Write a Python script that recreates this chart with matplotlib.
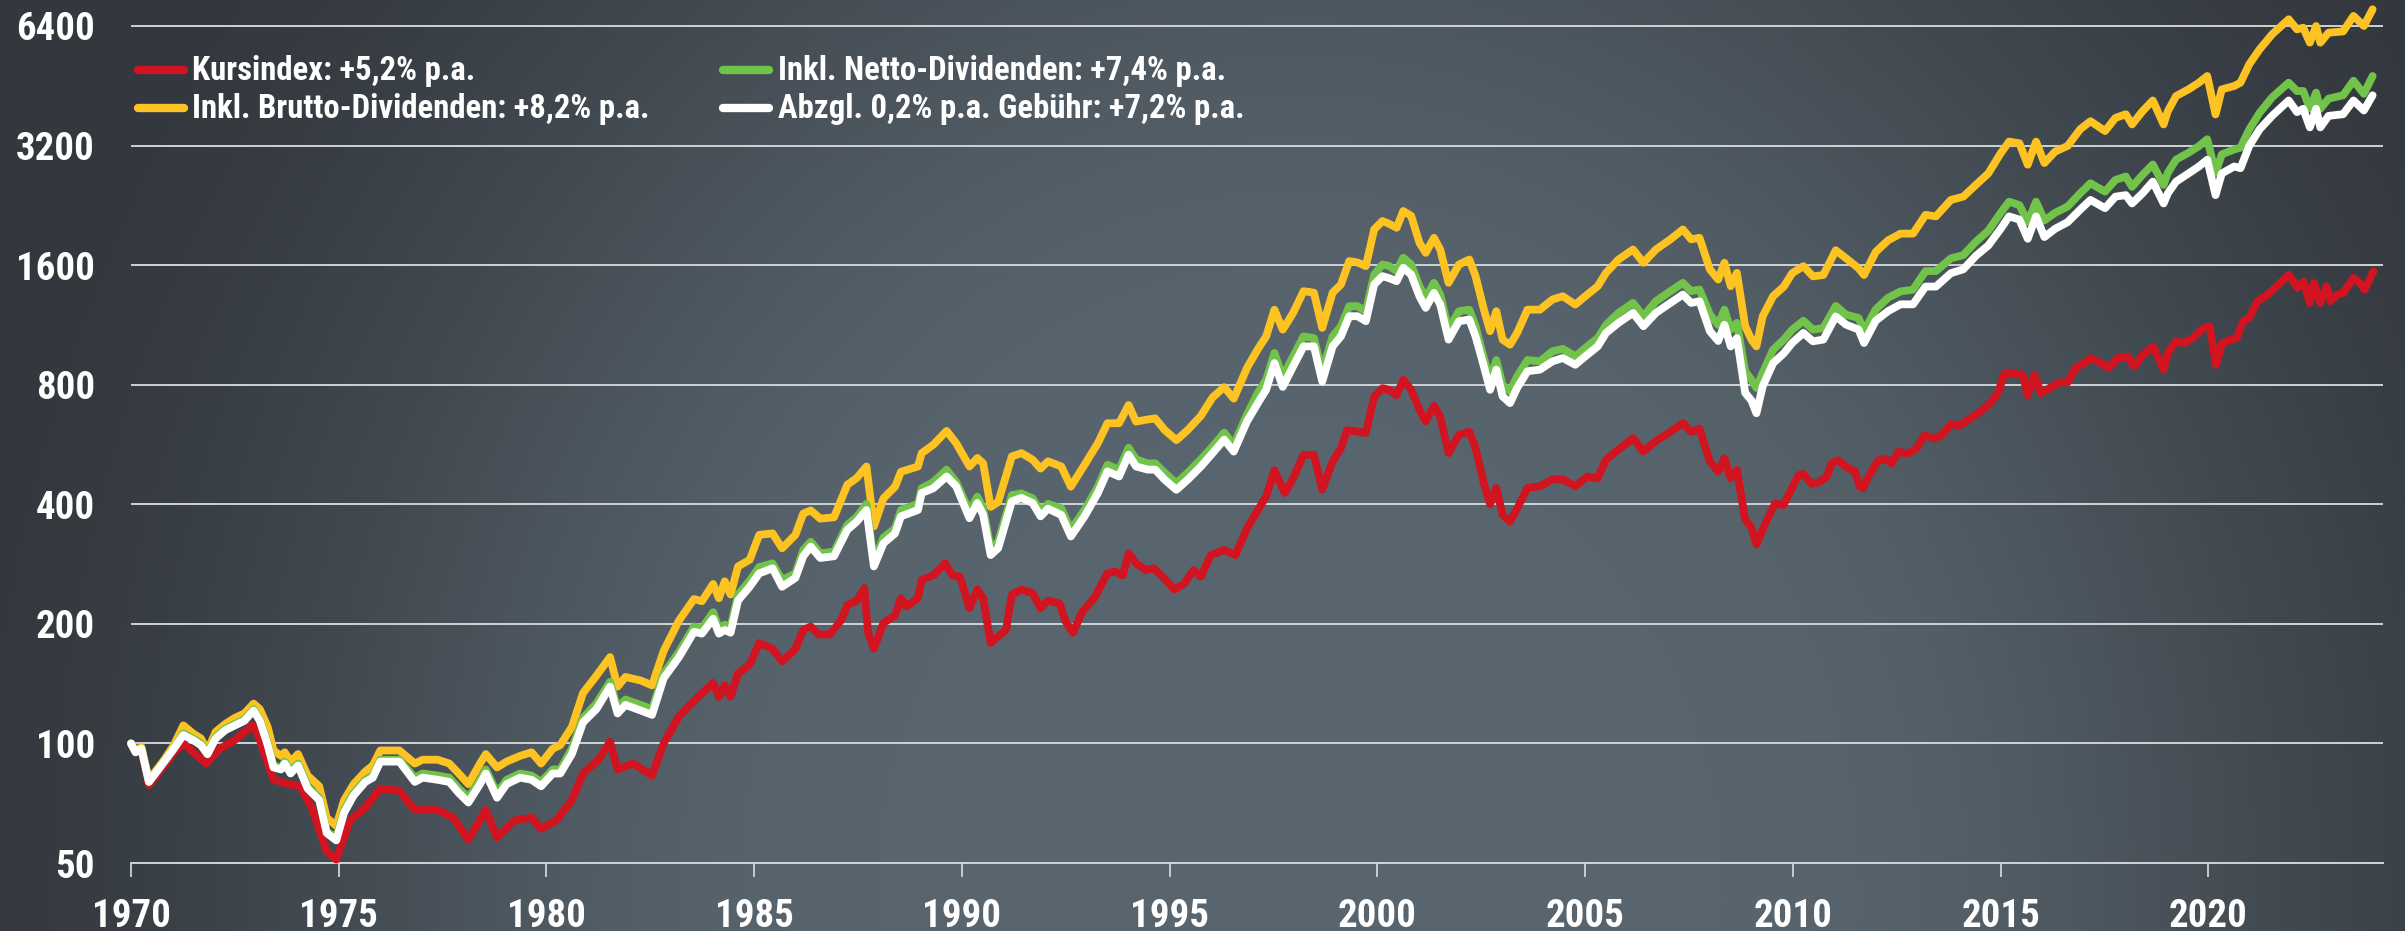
import numpy as np
import matplotlib
matplotlib.use("Agg")
import matplotlib.pyplot as plt
from matplotlib import font_manager as fm
from matplotlib.lines import Line2D
from matplotlib.ticker import FixedLocator, NullLocator

# --- data -----------------------------------------------------------------
# Kursindex (price index), own sampling
KURS_YEARS = [
    1970.00, 1970.11, 1970.25, 1970.43, 1970.75, 1971.03, 1971.26, 1971.81, 1972.14, 1972.50,
    1972.92, 1973.06, 1973.43, 1973.79, 1974.07, 1974.35, 1974.71, 1974.94, 1975.27, 1975.64,
    1976.00, 1976.46, 1976.83, 1977.38, 1977.75, 1978.12, 1978.54, 1978.81, 1979.23, 1979.64,
    1979.87, 1980.24, 1980.61, 1980.88, 1981.25, 1981.53, 1981.71, 1982.08, 1982.54, 1982.82,
    1983.19, 1983.55, 1984.01,
    1984.15, 1984.29, 1984.43, 1984.61, 1984.89, 1985.12, 1985.44, 1985.67, 1985.99, 1986.18,
    1986.36, 1986.55, 1986.82, 1987.10, 1987.24, 1987.47, 1987.65, 1987.74, 1987.88, 1988.11,
    1988.39, 1988.53, 1988.66, 1988.94, 1989.03, 1989.31, 1989.59, 1989.77, 1989.95, 1990.18,
    1990.37, 1990.51, 1990.69, 1990.87, 1991.06, 1991.20, 1991.43, 1991.70, 1991.89, 1992.07,
    1992.35, 1992.49, 1992.67, 1992.90, 1993.18, 1993.50, 1993.68, 1993.87, 1994.01, 1994.19,
    1994.42, 1994.60, 1994.83, 1995.11, 1995.34, 1995.57, 1995.75, 1995.99, 1996.31, 1996.58,
    1996.86,
    1997.12, 1997.32, 1997.52, 1997.77, 1997.97, 1998.22, 1998.47, 1998.67, 1998.92, 1999.12,
    1999.27, 1999.52, 1999.72, 1999.92, 2000.12, 2000.27, 2000.46, 2000.62, 2000.81, 2001.01,
    2001.16, 2001.36, 2001.51, 2001.71, 2001.96, 2002.21, 2002.36, 2002.56, 2002.71, 2002.86,
    2003.01, 2003.19, 2003.36, 2003.61, 2003.91, 2004.21, 2004.46, 2004.76, 2005.05, 2005.30,
    2005.50, 2005.80, 2006.15, 2006.40, 2006.70, 2007.05, 2007.35, 2007.55, 2007.75, 2008.00,
    2008.20, 2008.35, 2008.50, 2008.65, 2008.85, 2009.00, 2009.12,
    2009.37, 2009.57, 2009.77, 2009.93, 2010.13, 2010.25, 2010.45, 2010.65, 2010.81, 2010.93,
    2011.09, 2011.29, 2011.49, 2011.61, 2011.69, 2011.81, 2012.05, 2012.21, 2012.37, 2012.53,
    2012.77, 2012.97, 2013.17, 2013.41, 2013.57, 2013.81, 2014.01, 2014.21, 2014.49, 2014.73,
    2014.93, 2015.09, 2015.33, 2015.53, 2015.65, 2015.81, 2015.97, 2016.21, 2016.41, 2016.61,
    2016.81,
    2017.01, 2017.16, 2017.41, 2017.61, 2017.81, 2018.06, 2018.21, 2018.42, 2018.67, 2018.92,
    2019.02, 2019.22, 2019.42, 2019.62, 2019.88, 2020.03, 2020.18, 2020.33, 2020.53, 2020.68,
    2020.83, 2020.98, 2021.18, 2021.43, 2021.68, 2021.94, 2022.14, 2022.29, 2022.44, 2022.54,
    2022.69, 2022.84, 2022.94, 2023.09, 2023.24, 2023.49, 2023.64, 2023.76, 2023.97,
]
KURS = [
    100, 95, 96, 78.6, 86.6, 95, 100, 89, 97, 102,
    111, 105, 81, 79, 78, 69, 53.5, 51, 64, 69,
    77, 76, 68, 68, 65, 57.3, 68, 58, 64, 65,
    61, 64, 72, 84, 91, 101, 86, 89, 83, 100,
    117, 128, 142,
    131, 140, 131, 150, 158, 179, 173, 161, 173, 193,
    197, 188, 188, 205, 223, 229, 246, 190, 173, 201,
    210, 232, 221, 232, 258, 265, 284, 265, 263, 219,
    244, 232, 179, 186, 193, 237, 244, 239, 219, 229,
    225, 203, 190, 215, 232, 268, 271, 265, 301, 284,
    273, 276, 263, 244, 252, 273, 263, 298, 307, 298,
    348,
    387, 418, 487, 427, 465, 533, 533, 436, 512, 554,
    615, 609, 605, 747, 784, 777, 753, 823, 777, 692,
    647, 708, 665, 538, 598, 609, 554, 452, 400, 440,
    376, 362, 390, 440, 444, 462, 462, 444, 470, 465,
    518, 549, 587, 543, 577, 609, 640, 609, 620, 512,
    484, 522, 465, 488, 366, 350, 317,
    365, 402, 398, 430, 473, 477, 450, 456, 469, 507,
    516, 496, 484, 443, 439, 469, 516, 521, 507, 542,
    537, 553, 597, 585, 597, 637, 632, 652, 682, 717,
    761, 853, 853, 846, 753, 846, 761, 789, 811, 811,
    883,
    907, 934, 907, 882, 934, 942, 889, 952, 999, 873,
    962, 1029, 1019, 1049, 1111, 1122, 898, 1019, 1039, 1049,
    1154, 1178, 1298, 1349, 1429, 1514, 1402, 1456, 1284, 1443,
    1284, 1415, 1298, 1349, 1360, 1486, 1443, 1389, 1544,
]

# total-return variants share one sampling
TR_YEARS = [
    1970.00, 1970.11, 1970.25, 1970.43, 1970.62, 1970.80, 1971.03, 1971.26, 1971.49, 1971.68,
    1971.84, 1972.04, 1972.27, 1972.50, 1972.73, 1972.95, 1973.10, 1973.29, 1973.43, 1973.61,
    1973.70, 1973.84, 1974.02, 1974.25, 1974.53, 1974.71, 1974.94, 1975.13, 1975.36, 1975.64,
    1975.82, 1976.00, 1976.46, 1976.83, 1977.02, 1977.38, 1977.66, 1977.89, 1978.12, 1978.40,
    1978.54, 1978.81, 1979.04, 1979.36, 1979.64, 1979.87, 1980.15, 1980.33, 1980.61, 1980.88,
    1981.20, 1981.53, 1981.71, 1981.90, 1982.27, 1982.54, 1982.82, 1983.19, 1983.55, 1983.74,
    1984.01,
    1984.15, 1984.29, 1984.43, 1984.61, 1984.89, 1985.12, 1985.44, 1985.67, 1985.99, 1986.18,
    1986.36, 1986.59, 1986.92, 1987.24, 1987.47, 1987.70, 1987.88, 1988.11, 1988.39, 1988.53,
    1988.94, 1989.03, 1989.31, 1989.63, 1989.86, 1990.18, 1990.37, 1990.51, 1990.69, 1990.87,
    1991.20, 1991.43, 1991.70, 1991.89, 1992.07, 1992.39, 1992.62, 1992.95, 1993.27, 1993.50,
    1993.78, 1994.01, 1994.19, 1994.47, 1994.65, 1994.88, 1995.16, 1995.43, 1995.75, 1996.03,
    1996.31, 1996.54, 1996.86,
    1997.12, 1997.32, 1997.52, 1997.72, 1997.97, 1998.22, 1998.47, 1998.67, 1998.92, 1999.12,
    1999.32, 1999.52, 1999.72, 1999.92, 2000.12, 2000.27, 2000.46, 2000.62, 2000.81, 2001.01,
    2001.16, 2001.36, 2001.51, 2001.71, 2001.96, 2002.21, 2002.36, 2002.56, 2002.71, 2002.86,
    2003.01, 2003.19, 2003.36, 2003.61, 2003.91, 2004.21, 2004.46, 2004.76, 2005.05, 2005.30,
    2005.50, 2005.80, 2006.15, 2006.40, 2006.70, 2007.05, 2007.35, 2007.55, 2007.75, 2008.00,
    2008.20, 2008.35, 2008.50, 2008.65, 2008.85, 2009.00, 2009.12,
    2009.27, 2009.52, 2009.78, 2009.98, 2010.25, 2010.48, 2010.73, 2011.03, 2011.28, 2011.58,
    2011.71, 2011.99, 2012.29, 2012.59, 2012.89, 2013.19, 2013.44, 2013.80, 2014.10, 2014.40,
    2014.70, 2015.00, 2015.20, 2015.45, 2015.65, 2015.85, 2016.05, 2016.31, 2016.61, 2016.91,
    2017.16, 2017.51, 2017.76, 2018.01, 2018.16, 2018.41, 2018.66, 2018.92, 2019.02, 2019.22,
    2019.52, 2019.77, 2019.97, 2020.17, 2020.32, 2020.62, 2020.77, 2020.98, 2021.23, 2021.53,
    2021.93, 2022.13, 2022.28, 2022.44, 2022.59, 2022.69, 2022.89, 2023.24, 2023.49, 2023.74,
    2023.95,
]
BRUTTO = [
    100, 96, 98, 81, 86, 91, 99, 111, 106, 103,
    96, 107, 112, 116, 119, 126, 122, 110, 96, 93,
    95, 90, 94, 83, 78, 65, 62, 72, 79, 85,
    88, 96, 96, 89, 91, 91, 89, 84, 79, 89,
    94, 87, 90, 93, 95, 89, 97, 99, 110, 134,
    148, 165, 139, 147, 144, 140, 171, 204, 231, 228,
    252,
    232, 256, 237, 279, 290, 335, 338, 310, 335, 379,
    386, 368, 371, 448, 466, 498, 352, 414, 443, 483,
    498, 538, 565, 612, 570, 498, 523, 507, 394, 405,
    528, 538, 518, 492, 513, 498, 443, 503, 570, 640,
    640, 711, 646, 654, 658, 615, 580, 615, 668, 743,
    789, 738, 882,
    983, 1058, 1236, 1101, 1213, 1376, 1364, 1112, 1364, 1430,
    1638, 1625, 1591, 1968, 2066, 2035, 1987, 2190, 2130, 1822,
    1718, 1875, 1752, 1444, 1606, 1653, 1501, 1238, 1091, 1225,
    1039, 1009, 1080, 1236, 1236, 1311, 1336, 1273, 1349, 1416,
    1530, 1653, 1752, 1622, 1752, 1858, 1968, 1858, 1875, 1561,
    1472, 1622, 1416, 1530, 1123, 1039, 999,
    1189, 1336, 1413, 1527, 1591, 1499, 1511, 1744, 1664, 1571,
    1511, 1727, 1848, 1921, 1921, 2141, 2123, 2335, 2380, 2547,
    2723, 3062, 3274, 3242, 2864, 3274, 2892, 3091, 3193, 3516,
    3686, 3481, 3756, 3838, 3617, 3903, 4156, 3617, 3903, 4265,
    4433, 4608, 4790, 3832, 4433, 4520, 4608, 5124, 5591, 6097,
    6654, 6277, 6338, 5810, 6400, 5810, 6158, 6200, 6784, 6400,
    7050,
]
NETTO = [
    100, 95, 97, 80, 85, 90, 97, 106, 103, 100,
    94, 104, 109, 112, 115, 122, 115, 100, 88, 87,
    90, 85, 89, 78, 73, 60, 58, 68, 75, 81,
    83, 91, 91, 82, 84, 83, 82, 77, 73, 81,
    86, 75, 81, 84, 83, 80, 86, 86, 97, 116,
    126, 143, 123, 129, 125, 122, 150, 170, 197, 195,
    214,
    195, 199, 197, 237, 257, 278, 284, 258, 268, 307,
    322, 301, 304, 355, 372, 401, 287, 330, 348, 387,
    401, 439, 455, 489, 455, 384, 418, 391, 310, 322,
    422, 426, 414, 384, 401, 391, 345, 387, 443, 503,
    489, 555, 519, 507, 507, 480, 452, 480, 519, 559,
    606, 564, 674,
    763, 823, 962, 839, 943, 1059, 1048, 865, 1059, 1123,
    1261, 1261, 1225, 1515, 1606, 1594, 1545, 1670, 1606, 1416,
    1324, 1444, 1349, 1101, 1225, 1236, 1123, 934, 823, 923,
    800, 770, 839, 923, 916, 971, 985, 943, 999, 1048,
    1132, 1213, 1285, 1190, 1298, 1376, 1444, 1376, 1389, 1201,
    1132, 1236, 1101, 1145, 865, 823, 785,
    857, 980, 1039, 1101, 1159, 1101, 1111, 1263, 1200, 1178,
    1091, 1237, 1325, 1374, 1388, 1546, 1546, 1664, 1696, 1832,
    1953, 2168, 2311, 2266, 2053, 2311, 2073, 2168, 2247, 2425,
    2572, 2450, 2622, 2675, 2520, 2700, 2868, 2547, 2732, 2950,
    3070, 3190, 3320, 2732, 3040, 3130, 3160, 3513, 3870, 4230,
    4608, 4390, 4390, 3960, 4350, 3960, 4200, 4283, 4660, 4320,
    4790,
]
GEBUEHR = [
    100, 95, 97, 80, 85, 90, 97, 105, 102, 99,
    94, 103, 108, 111, 114, 121, 114, 99, 87, 86,
    89, 84, 88, 77, 72, 59.5, 57, 67, 74, 80,
    82, 90, 90, 80, 82, 81, 80, 75, 71, 79,
    84, 73, 79, 82, 81, 78, 84, 84, 94, 113,
    122, 139, 119, 125, 121, 118, 146, 165, 191, 189,
    206,
    189, 193, 190, 229, 248, 268, 276, 248, 261, 296,
    313, 293, 296, 345, 362, 387, 279, 319, 338, 373,
    387, 427, 439, 470, 444, 369, 403, 376, 298, 310,
    407, 415, 403, 373, 390, 376, 332, 373, 427, 484,
    470, 533, 498, 489, 489, 461, 435, 461, 498, 538,
    582, 543, 647,
    719, 777, 907, 790, 890, 999, 999, 815, 999, 1059,
    1190, 1190, 1156, 1430, 1501, 1485, 1458, 1576, 1515, 1336,
    1249, 1362, 1273, 1039, 1156, 1167, 1059, 890, 777, 873,
    748, 719, 785, 865, 873, 916, 934, 898, 952, 999,
    1080, 1145, 1213, 1123, 1213, 1285, 1349, 1285, 1298, 1091,
    1031, 1132, 999, 1048, 763, 730, 678,
    792, 906, 960, 1019, 1080, 1029, 1039, 1189, 1133, 1101,
    1019, 1159, 1226, 1275, 1275, 1413, 1413, 1527, 1562, 1688,
    1793, 1976, 2123, 2083, 1864, 2123, 1883, 1976, 2053, 2206,
    2335, 2226, 2380, 2401, 2288, 2425, 2597, 2288, 2425, 2597,
    2723, 2835, 2948, 2401, 2723, 2835, 2806, 3193, 3516, 3801,
    4156, 3885, 3960, 3555, 3960, 3555, 3801, 3838, 4156, 3922,
    4283,
]

LABELS = ["Kursindex: +5,2% p.a.", "Inkl. Brutto-Dividenden: +8,2% p.a.",
          "Inkl. Netto-Dividenden: +7,4% p.a.", "Abzgl. 0,2% p.a. Gebühr: +7,2% p.a."]
Y_TICKS = [50, 100, 200, 400, 800, 1600, 3200, 6400]
X_TICKS = [1970, 1975, 1980, 1985, 1990, 1995, 2000, 2005, 2010, 2015, 2020]

assert len(KURS_YEARS) == len(KURS)
assert len(TR_YEARS) == len(BRUTTO) == len(NETTO) == len(GEBUEHR)

RED, YELLOW, GREEN, WHITE = "#d1141f", "#fdc323", "#72c34a", "#ffffff"
GRID = "#cfd3d6"


def pick_font():
    """Prefer a narrow bold face; fall back to Liberation Sans Bold."""
    tries = [
        ("Roboto Condensed", "normal"),
        ("Liberation Sans Narrow", "normal"),
        ("Open Sans Condensed", "normal"),
        ("DejaVu Sans", "condensed"),
    ]
    for fam, stretch in tries:
        try:
            path = fm.findfont(fm.FontProperties(family=fam, weight="bold", stretch=stretch),
                               fallback_to_default=False)
        except ValueError:
            continue
        low = path.lower()
        if "condensed" in low or "narrow" in low:
            return fm.FontProperties(fname=path), True
    path = fm.findfont(fm.FontProperties(family="Liberation Sans", weight="bold"))
    return fm.FontProperties(fname=path), False


FONT, NARROW = pick_font()
SCALE = 1.0 if NARROW else 0.95


def fp(size):
    f = FONT.copy()
    f.set_size(size * SCALE)
    return f


W, H = 2405, 931
fig = plt.figure(figsize=(W / 100, H / 100), dpi=100)

# --- background: soft radial gradient ------------------------------------
yy, xx = np.mgrid[0:H, 0:W]
d = np.sqrt(((xx - 1300) / 1400.0) ** 2 + ((yy - 900) / 1600.0) ** 2)
t = np.clip((d - 0.3) / 0.7, 0, 1)
t = t * t * (3 - 2 * t)
light = np.array([0x59, 0x65, 0x6e]) / 255.0
dark = np.array([0x33, 0x38, 0x3e]) / 255.0
img = light * (1 - t[..., None]) + dark * t[..., None]
bg = fig.add_axes([0, 0, 1, 1])
bg.imshow(img, aspect="auto", extent=(0, 1, 0, 1), origin="upper", interpolation="bilinear")
bg.axis("off")

# --- main axes -------------------------------------------------------------
ax = fig.add_axes([131 / W, (H - 863) / H, (2383 - 131) / W, 863 / H])
ax.patch.set_alpha(0)
ax.set_yscale("log", base=2)
ax.set_ylim(50, 7441)
ax.set_xlim(1970, 2024.2)

ax.yaxis.set_major_locator(FixedLocator(Y_TICKS))
ax.yaxis.set_minor_locator(NullLocator())
ax.set_yticklabels([str(v) for v in Y_TICKS])
ax.set_xticks(X_TICKS)
ax.set_xticklabels([str(v) for v in X_TICKS])
ax.xaxis.set_minor_locator(NullLocator())

ax.grid(axis="y", color=GRID, lw=1.4, zorder=1)
ax.set_axisbelow(True)
for side in ["top", "right", "left"]:
    ax.spines[side].set_visible(False)
ax.spines["bottom"].set_color(GRID)
ax.spines["bottom"].set_linewidth(1.4)

ax.tick_params(axis="y", length=0, pad=26, labelcolor="white")
ax.tick_params(axis="x", length=10, width=1.3, color=GRID, pad=15, labelcolor="white")
for lab in ax.get_xticklabels() + ax.get_yticklabels():
    lab.set_fontproperties(fp(28))

series = [
    (KURS_YEARS, KURS, RED, 3),
    (TR_YEARS, BRUTTO, YELLOW, 4),
    (TR_YEARS, NETTO, GREEN, 5),
    (TR_YEARS, GEBUEHR, WHITE, 6),
]
for xs, ys, col, z in series:
    ax.plot(xs, ys, color=col, lw=5.6, solid_joinstyle="round",
            solid_capstyle="round", clip_on=False, zorder=z)

# --- legend drawn by hand (two columns) ----------------------------------
legend_items = [
    (LABELS[0], RED, 138, 192, 70),
    (LABELS[1], YELLOW, 138, 192, 108),
    (LABELS[2], GREEN, 723, 778, 70),
    (LABELS[3], WHITE, 723, 778, 108),
]
for text, col, lx, tx, cy in legend_items:
    fig.add_artist(Line2D([lx / W, (lx + 46) / W], [1 - cy / H, 1 - cy / H],
                          transform=fig.transFigure, color=col, lw=6.0,
                          solid_capstyle="round"))
    fig.text(tx / W, 1 - (cy + 10) / H, text, ha="left", va="baseline",
             color="white", fontproperties=fp(23.6))

fig.savefig("out.png", dpi=100, facecolor="white")
